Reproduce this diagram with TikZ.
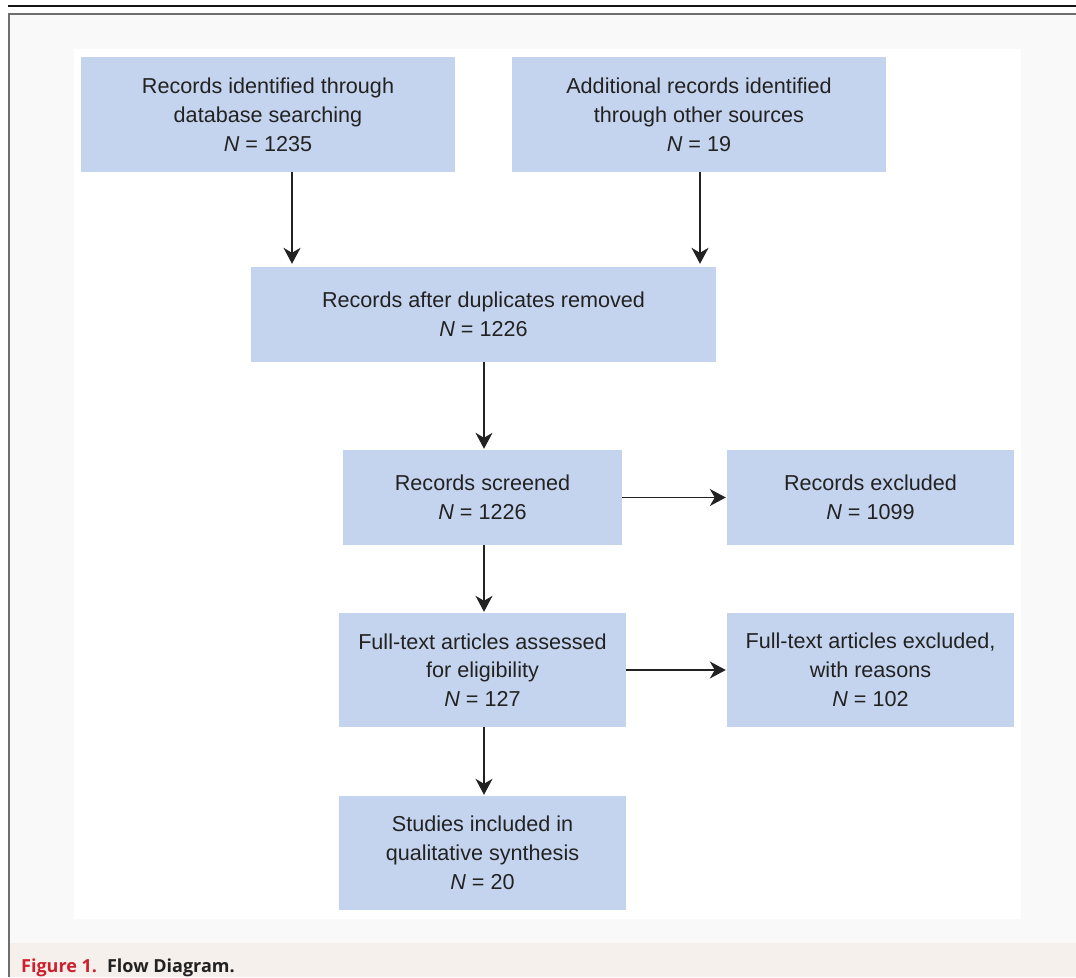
\documentclass[tikz,border=0pt]{standalone}
\usepackage{fontspec}
\setmainfont{Liberation Sans}
\newfontfamily\capfont{Open Sans}
\usetikzlibrary{arrows.meta,positioning}
\definecolor{boxfill}{HTML}{C5D4EE}
\definecolor{txt}{HTML}{222222}
\definecolor{framegray}{HTML}{6E6E6E}
\definecolor{bggray}{HTML}{F9F9F9}
\definecolor{capband}{HTML}{F5F0EB}
\definecolor{capred}{HTML}{CE1F2E}
\tikzset{
  flowbox/.style={fill=boxfill, draw=none, inner sep=0pt, align=center, text=txt,
    font=\fontsize{21.6}{28.8}\selectfont},
  flowarrow/.style={draw=txt, line width=1.5pt, -{Stealth[length=16pt,width=17pt,inset=5pt]}, shorten >=1pt}
}
\begin{document}
\begin{tikzpicture}[x=1pt,y=-1pt]
\useasboundingbox (0,0) rectangle (1076,977);
% frame
\fill[bggray] (10,15) rectangle (1076,943);
\fill[white] (74,49) rectangle (1021,919);
\fill[capband] (10,943) rectangle (1076,977);
\draw[black!92, line width=2.4pt] (8,6.2) -- (1076,6.2);
\draw[framegray, line width=2.2pt] (9.1,977) -- (9.1,14.1) -- (1076,14.1);
% boxes
\node[flowbox, minimum width=374pt, minimum height=115pt] (A) at (268,114.5)
  {Records identified through\\database searching\\\textit{N} = 1235};
\node[flowbox, minimum width=374pt, minimum height=115pt] (B) at (699,114.5)
  {Additional records identified\\through other sources\\\textit{N} = 19};
\node[flowbox, minimum width=465pt, minimum height=95pt] (C) at (483.5,314.5)
  {Records after duplicates removed\\\textit{N} = 1226};
\node[flowbox, minimum width=279pt, minimum height=95pt] (D) at (482.5,497.5)
  {Records screened\\\textit{N} = 1226};
\node[flowbox, minimum width=287pt, minimum height=95pt] (E) at (870.5,497.5)
  {Records excluded\\\textit{N} = 1099};
\node[flowbox, minimum width=287pt, minimum height=114pt] (F) at (482.5,670)
  {Full-text articles assessed\\for eligibility\\\textit{N} = 127};
\node[flowbox, minimum width=287pt, minimum height=114pt] (G) at (870.5,670)
  {Full-text articles excluded,\\with reasons\\\textit{N} = 102};
\node[flowbox, minimum width=287pt, minimum height=114pt] (H) at (482.5,853)
  {Studies included in\\qualitative synthesis\\\textit{N} = 20};
% connectors
\coordinate (xa) at (292,0);
\coordinate (xb) at (700,0);
\coordinate (xm) at (484,0);
\draw[flowarrow, shorten >=3pt] (A.south -| xa) -- (C.north -| xa);
\draw[flowarrow, shorten >=3pt] (B.south -| xb) -- (C.north -| xb);
\draw[flowarrow] (C.south -| xm) -- (D.north -| xm);
\draw[flowarrow] (D.east) -- (E.west);
\draw[flowarrow] (D.south -| xm) -- (F.north -| xm);
\draw[flowarrow] (F.east) -- (G.west);
\draw[flowarrow] (F.south -| xm) -- (H.north -| xm);
% caption
\node[anchor=base west, inner sep=0pt, font=\capfont\bfseries\fontsize{18}{20}\selectfont] (cap) at (21,972)
  {\textcolor{capred}{Figure 1.}\hspace{10pt}\textcolor{txt}{Flow Diagram.}};
\end{tikzpicture}
\end{document}
